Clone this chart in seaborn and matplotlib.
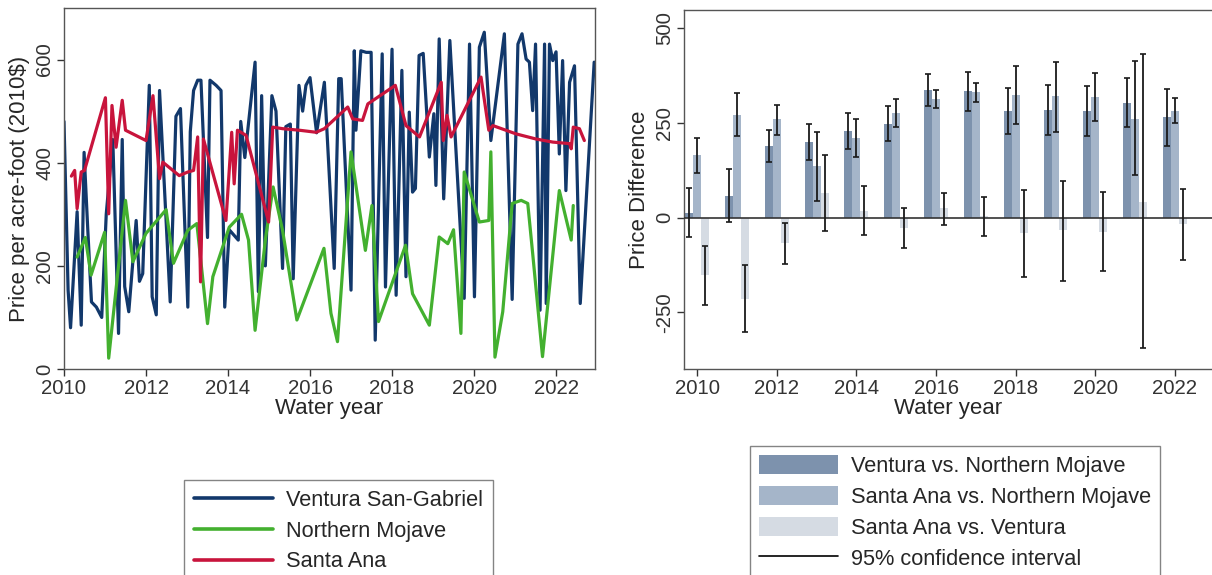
import numpy as np
import pandas as pd
import matplotlib
matplotlib.use("Agg")
import matplotlib.pyplot as plt
from matplotlib.lines import Line2D
from matplotlib.patches import Patch
import seaborn as sns

# ---------------- data: left panel (price series) ----------------
ventura_t = [2010.00, 2010.10, 2010.16, 2010.32, 2010.42, 2010.49, 2010.58, 2010.67, 2010.79, 2010.92,
             2011.03, 2011.19, 2011.33, 2011.42, 2011.48, 2011.58, 2011.76, 2011.84, 2011.92, 2012.08,
             2012.15, 2012.25, 2012.33, 2012.59, 2012.73, 2012.84, 2013.02, 2013.08, 2013.16, 2013.26,
             2013.34, 2013.50, 2013.56, 2013.71, 2013.83, 2013.92, 2014.03, 2014.25, 2014.31, 2014.41,
             2014.66, 2014.74, 2014.82, 2014.91, 2015.07, 2015.17, 2015.33, 2015.41, 2015.52, 2015.59,
             2015.73, 2015.82, 2015.90, 2016.00, 2016.16, 2016.35, 2016.59, 2016.70, 2016.76, 2017.00,
             2017.08, 2017.12, 2017.24, 2017.37, 2017.49, 2017.59, 2017.76, 2017.84, 2018.00, 2018.10,
             2018.24, 2018.34, 2018.42, 2018.50, 2018.57, 2018.66, 2018.76, 2018.91, 2019.02, 2019.07,
             2019.15, 2019.26, 2019.41, 2019.76, 2019.89, 2020.01, 2020.13, 2020.25, 2020.41, 2020.74,
             2020.93, 2021.07, 2021.17, 2021.27, 2021.35, 2021.43, 2021.50, 2021.61, 2021.72, 2021.76,
             2021.84, 2021.92, 2022.00, 2022.08, 2022.16, 2022.24, 2022.33, 2022.45, 2022.59, 2022.93]
ventura_v = [480, 153, 80, 305, 85, 420, 270, 130, 120, 100,
             300, 445, 69, 445, 160, 111, 288, 170, 185, 550,
             140, 105, 540, 130, 490, 505, 120, 460, 540, 560,
             560, 255, 560, 550, 540, 120, 270, 250, 480, 410,
             595, 150, 530, 200, 530, 500, 195, 470, 475, 175,
             550, 500, 550, 565, 458, 556, 195, 563, 563, 153,
             617, 463, 617, 614, 614, 56, 611, 159, 620, 143,
             579, 179, 498, 343, 350, 608, 612, 411, 495, 356,
             640, 330, 637, 137, 630, 140, 624, 653, 443, 650,
             135, 630, 650, 601, 595, 501, 630, 114, 630, 127,
             630, 598, 615, 417, 598, 346, 556, 588, 127, 595]

mojave_t = [2010.32, 2010.52, 2010.66, 2010.99, 2011.09, 2011.50, 2011.68, 2012.00, 2012.49, 2012.67,
            2013.02, 2013.24, 2013.50, 2013.63, 2014.03, 2014.33, 2014.50, 2014.66, 2014.92, 2015.10,
            2015.33, 2015.68, 2016.34, 2016.51, 2016.67, 2017.00, 2017.35, 2017.51, 2017.67, 2018.33,
            2018.50, 2018.91, 2019.15, 2019.36, 2019.50, 2019.68, 2019.76, 2020.13, 2020.36, 2020.41,
            2020.51, 2020.70, 2020.93, 2021.15, 2021.31, 2021.43, 2021.67, 2022.08, 2022.37, 2022.42]
mojave_v = [217, 255, 182, 265, 21, 327, 208, 263, 309, 205,
            269, 282, 88, 179, 275, 300, 250, 75, 256, 353,
            269, 95, 234, 108, 53, 421, 230, 317, 92, 240,
            146, 85, 256, 243, 270, 69, 382, 285, 288, 421,
            23, 111, 321, 327, 321, 224, 24, 346, 250, 317]

santa_ana_t = [2010.18, 2010.26, 2010.32, 2010.42, 2010.50, 2011.01, 2011.09, 2011.17, 2011.27, 2011.42,
               2011.50, 2012.00, 2012.17, 2012.33, 2012.41, 2012.81, 2013.02, 2013.16, 2013.26, 2013.33,
               2013.40, 2013.95, 2014.09, 2014.15, 2014.23, 2014.44, 2014.99, 2015.09, 2015.33, 2015.74,
               2016.15, 2016.35, 2016.92, 2017.04, 2017.28, 2017.41, 2018.08, 2018.34, 2018.67, 2019.20,
               2019.25, 2019.34, 2019.44, 2020.17, 2020.36, 2020.46, 2021.02, 2021.51, 2021.92, 2022.33,
               2022.37, 2022.42, 2022.57, 2022.69]
santa_ana_v = [374, 385, 311, 382, 385, 526, 301, 511, 430, 521,
               463, 443, 530, 369, 401, 375, 382, 385, 450, 169,
               446, 288, 459, 359, 463, 453, 285, 469, 466, 463,
               459, 466, 508, 485, 482, 514, 550, 472, 450, 556,
               443, 492, 450, 566, 463, 472, 456, 446, 440, 437,
               427, 469, 466, 443]

series_names = ["Ventura San-Gabriel", "Northern Mojave", "Santa Ana"]
series_colors = ["#12386b", "#43b02f", "#c8143c"]

# ---------------- data: right panel (price differences) ----------------
years = [2010, 2011, 2012, 2013, 2014, 2015, 2016, 2017, 2018, 2019, 2020, 2021, 2022]
comparisons = ["Ventura vs. Northern Mojave", "Santa Ana vs. Northern Mojave", "Santa Ana vs. Ventura"]
ven_vs_moj = [13, 57, 189, 200, 228, 248, 336, 333, 281, 285, 281, 303, 265]
ven_vs_moj_lo = [-52, -13, 146, 153, 181, 202, 294, 282, 220, 219, 214, 239, 189]
ven_vs_moj_hi = [77, 127, 230, 246, 275, 294, 378, 385, 341, 350, 347, 368, 340]
sa_vs_moj = [164, 271, 259, 136, 209, 276, 314, 331, 323, 320, 318, 261, 282]
sa_vs_moj_lo = [118, 215, 217, 44, 161, 240, 289, 306, 246, 227, 254, 111, 249]
sa_vs_moj_hi = [210, 329, 298, 227, 259, 312, 336, 354, 401, 412, 382, 413, 316]
sa_vs_ven = [-152, -215, -68, 64, 18, -27, 24, 3, -42, -34, -38, 42, -16]
sa_vs_ven_lo = [-230, -303, -123, -35, -45, -80, -19, -49, -156, -167, -142, -345, -111]
sa_vs_ven_hi = [-74, -125, -15, 165, 82, 25, 66, 54, 72, 97, 67, 431, 76]
bar_colors = ["#7d92ad", "#a5b5c9", "#d5dbe3"]
tick_years = [2010, 2012, 2014, 2016, 2018, 2020, 2022]

# ---------------- style ----------------
sns.set_theme(style="ticks")
plt.rcParams["font.family"] = ["Liberation Sans", "DejaVu Sans"]
plt.rcParams["axes.edgecolor"] = "#555555"
plt.rcParams["xtick.color"] = "#333333"
plt.rcParams["ytick.color"] = "#333333"
plt.rcParams["axes.unicode_minus"] = False

TICK_FS = 14.7
LEG_FS = 15.7
LAB_FS = 16.0
fig = plt.figure(figsize=(12.12, 5.75), dpi=100)
axL = fig.add_axes([64 / 1212, 1 - 369 / 575, (595 - 64) / 1212, (369 - 8) / 575])
axR = fig.add_axes([684 / 1212, 1 - 369 / 575, (1212 - 684) / 1212, (369 - 10) / 575])

# ---- left: lines ----
long = pd.concat([
    pd.DataFrame({"t": ventura_t, "v": ventura_v, "s": series_names[0]}),
    pd.DataFrame({"t": mojave_t, "v": mojave_v, "s": series_names[1]}),
    pd.DataFrame({"t": santa_ana_t, "v": santa_ana_v, "s": series_names[2]}),
], ignore_index=True)
sns.lineplot(data=long, x="t", y="v", hue="s", palette=dict(zip(series_names, series_colors)),
             sort=False, estimator=None, linewidth=2.3, ax=axL, legend=False)
axL.set_xlim(2010, 2022.95)
axL.set_ylim(0, 700)
axL.set_xticks(tick_years)
axL.set_yticks([0, 200, 400, 600])
axL.set_xlabel("Water year", fontsize=LAB_FS, labelpad=0)
axL.set_ylabel("Price per acre-foot (2010$)", fontsize=LAB_FS, labelpad=4)
axL.tick_params(axis="both", labelsize=TICK_FS, length=5, width=1, pad=2)
for lab in axL.get_yticklabels():
    lab.set_rotation(90)
    lab.set_va("center")
for sp in axL.spines.values():
    sp.set_visible(True)
    sp.set_linewidth(1.0)

# ---- right: bars ----
bars = pd.DataFrame({
    "year": years * 3,
    "diff": ven_vs_moj + sa_vs_moj + sa_vs_ven,
    "comp": [comparisons[0]] * 13 + [comparisons[1]] * 13 + [comparisons[2]] * 13,
})
sns.barplot(data=bars, x="year", y="diff", hue="comp", hue_order=comparisons,
            palette=dict(zip(comparisons, bar_colors)), native_scale=True, width=0.6,
            errorbar=None, saturation=1, linewidth=0, ax=axR, legend=False)
axR.axhline(0, color="#333333", linewidth=1.2, zorder=3)
los = [ven_vs_moj_lo, sa_vs_moj_lo, sa_vs_ven_lo]
his = [ven_vs_moj_hi, sa_vs_moj_hi, sa_vs_ven_hi]
for k, off in enumerate([-0.2, 0.0, 0.2]):
    xs = np.array(years) + off
    mid = (np.array(los[k]) + np.array(his[k])) / 2
    half = (np.array(his[k]) - np.array(los[k])) / 2
    axR.errorbar(xs, mid, yerr=half, fmt="none", ecolor="#1a1a1a", elinewidth=1.3,
                 capsize=2, capthick=1.2, zorder=4)
axR.set_xlim(2009.67, 2022.93)
axR.set_ylim(-400, 548)
axR.set_xticks(tick_years)
axR.set_xticklabels([str(y) for y in tick_years])
axR.set_yticks([-250, 0, 250, 500])
axR.set_xlabel("Water year", fontsize=LAB_FS, labelpad=0)
axR.set_ylabel("Price Difference", fontsize=LAB_FS, labelpad=4)
axR.tick_params(axis="both", labelsize=TICK_FS, length=5, width=1, pad=2)
for lab in axR.get_yticklabels():
    lab.set_rotation(90)
    lab.set_va("center")
axR.spines["right"].set_visible(False)
axR.spines["top"].set_visible(True)
for sp in axR.spines.values():
    sp.set_linewidth(1.0)

# ---- legends ----
hL = [Line2D([0], [0], color=c, lw=2.6) for c in series_colors]
legL = fig.legend(hL, series_names, loc="upper left", bbox_to_anchor=(184 / 1212, 1 - 480 / 575),
                  fontsize=LEG_FS, frameon=True, fancybox=False, edgecolor="#666666",
                  handlelength=3.65, handletextpad=0.6, labelspacing=0.45, borderpad=0.45,
                  borderaxespad=0)
legL.get_frame().set_linewidth(1.0)

hR = [Patch(facecolor=c, edgecolor="none") for c in bar_colors] + [Line2D([0], [0], color="black", lw=1.2)]
legR = fig.legend(hR, comparisons + ["95% confidence interval"], loc="upper left",
                  bbox_to_anchor=(750 / 1212, 1 - 446 / 575),
                  fontsize=LEG_FS, frameon=True, fancybox=False, edgecolor="#666666",
                  handlelength=3.65, handleheight=0.95, handletextpad=0.6, labelspacing=0.42,
                  borderpad=0.4, borderaxespad=0)
legR.get_frame().set_linewidth(1.0)

fig.savefig("out.png", dpi=100)
